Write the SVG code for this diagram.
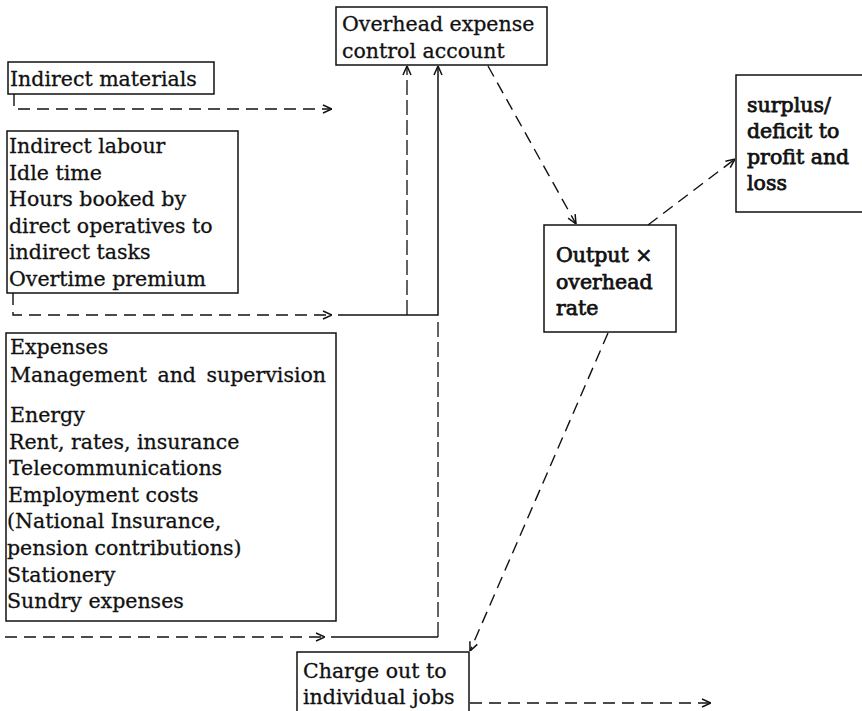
<svg xmlns="http://www.w3.org/2000/svg" width="862" height="711" viewBox="0 0 862 711">
  <style>
    .box { fill: #fff; stroke: #111; stroke-width: 1.5; }
    .t { font-family: "DejaVu Serif", "Liberation Serif", serif; font-size: 20.5px; fill: #111; stroke: #111; stroke-width: 0.3; }
    .b { stroke-width: 0.75; }
    .dash { fill: none; stroke: #111; stroke-width: 1.4; stroke-dasharray: 12 7; }
    .dd { fill: none; stroke: #111; stroke-width: 1.3; stroke-dasharray: 15 5; }
    .solid { fill: none; stroke: #111; stroke-width: 1.5; }
  </style>
  <defs>
    <marker id="arr" viewBox="0 0 10 10" refX="10" refY="5" markerWidth="10" markerHeight="10" markerUnits="userSpaceOnUse" orient="auto">
      <path d="M1,1 L10,5 L1,9" fill="none" stroke="#111" stroke-width="1.5"/>
    </marker>
  </defs>
  <rect width="862" height="711" fill="#fff"/>

  <g id="connectors">
    <!-- indirect materials feed -->
    <path class="dash" d="M14,94 V109 H332" marker-end="url(#arr)"/>
    <!-- indirect labour feed -->
    <path class="dash" d="M13,293 V315 H332" marker-end="url(#arr)"/>
    <path class="solid" d="M338,315 H438 V66" marker-end="url(#arr)"/>
    <path class="dd" d="M407,315 V66" marker-end="url(#arr)"/>
    <!-- expenses feed -->
    <path class="dash" d="M5,637 H325" marker-end="url(#arr)"/>
    <path class="solid" d="M331,637 H438"/>
    <path class="dd" d="M438,637 V318"/>
    <!-- control account to absorption -->
    <path class="dash" d="M488,66 L576,224" marker-end="url(#arr)"/>
    <!-- absorption to profit and loss -->
    <path class="dash" d="M648,225 L735,159" marker-end="url(#arr)"/>
    <!-- absorption to jobs -->
    <path class="dash" d="M608,333 L470,651" marker-end="url(#arr)"/>
    <!-- jobs onward -->
    <path class="dash" d="M470,703 H711" marker-end="url(#arr)"/>
  </g>

  <g id="overhead-control">
    <rect class="box" x="336" y="7" width="211" height="58"/>
    <text class="t" x="342" y="31">Overhead expense</text>
    <text class="t" x="342" y="58">control account</text>
  </g>

  <g id="indirect-materials">
    <rect class="box" x="8" y="62" width="206" height="32"/>
    <text class="t" x="10" y="86">Indirect materials</text>
  </g>

  <g id="indirect-labour">
    <rect class="box" x="7" y="131" width="231" height="162"/>
    <text class="t" x="9" y="153">Indirect labour</text>
    <text class="t" x="9" y="180">Idle time</text>
    <text class="t" x="9" y="206">Hours booked by</text>
    <text class="t" x="9" y="233">direct operatives to</text>
    <text class="t" x="9" y="259">indirect tasks</text>
    <text class="t" x="9" y="286">Overtime premium</text>
  </g>

  <g id="expenses">
    <rect class="box" x="6" y="333" width="330" height="288"/>
    <text class="t" x="10" y="354">Expenses</text>
    <text class="t" x="10" y="382" word-spacing="4">Management and supervision</text>
    <text class="t" x="10" y="422">Energy</text>
    <text class="t" x="9" y="449">Rent, rates, insurance</text>
    <text class="t" x="9" y="475">Telecommunications</text>
    <text class="t" x="8" y="502">Employment costs</text>
    <text class="t" x="7" y="528">(National Insurance,</text>
    <text class="t" x="7" y="555">pension contributions)</text>
    <text class="t" x="7" y="582">Stationery</text>
    <text class="t" x="7" y="608">Sundry expenses</text>
  </g>

  <g id="absorption">
    <rect class="box" x="544" y="225" width="132" height="107"/>
    <text class="t b" x="556" y="262">Output ×</text>
    <text class="t b" x="556" y="289">overhead</text>
    <text class="t b" x="556" y="315">rate</text>
  </g>

  <g id="profit-loss">
    <rect class="box" x="736" y="75" width="130" height="137"/>
    <text class="t b" x="747" y="112">surplus/</text>
    <text class="t b" x="747" y="138">deficit to</text>
    <text class="t b" x="747" y="164">profit and</text>
    <text class="t b" x="747" y="190">loss</text>
  </g>

  <g id="charge-out">
    <rect class="box" x="297" y="652" width="172" height="70"/>
    <text class="t" x="303" y="678" font-size="21">Charge out to</text>
    <text class="t" x="303" y="704" font-size="21">individual jobs</text>
  </g>
</svg>
